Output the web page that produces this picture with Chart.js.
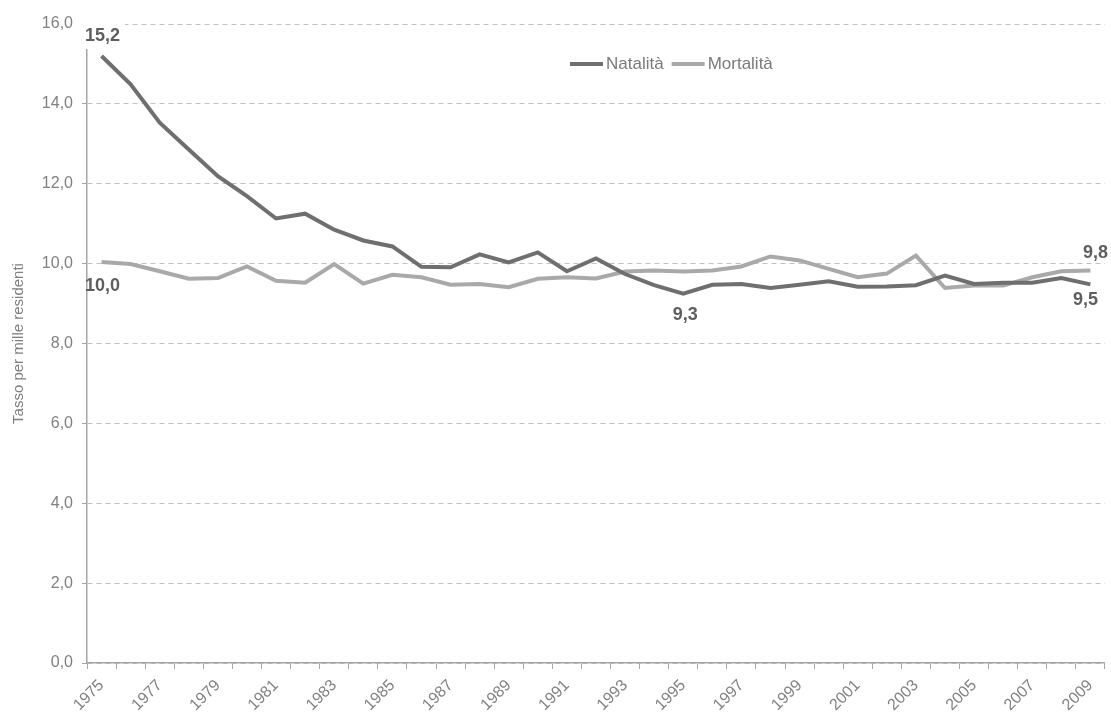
<!DOCTYPE html>
<html>
<head>
<meta charset="utf-8">
<script src="https://cdn.jsdelivr.net/npm/chart.js@4.4.0/dist/chart.umd.min.js"></script>
<style>
    html, body { margin: 0; padding: 0; background: #fff; }
    #wrap { width: 1111px; height: 718px; position: relative; }
</style>
</head>
<body>
<div id="wrap"><canvas id="chart"></canvas></div>
<script>
const years = ["1975", "1976", "1977", "1978", "1979", "1980", "1981", "1982", "1983", "1984",
    "1985", "1986", "1987", "1988", "1989", "1990", "1991", "1992", "1993", "1994",
    "1995", "1996", "1997", "1998", "1999", "2000", "2001", "2002", "2003", "2004",
    "2005", "2006", "2007", "2008", "2009"];

const natalita = [15.2, 14.49, 13.53, 12.86, 12.19, 11.69, 11.13, 11.25, 10.85, 10.58,
    10.43, 9.92, 9.91, 10.23, 10.03, 10.28, 9.81, 10.13, 9.74, 9.46,
    9.25, 9.47, 9.49, 9.39, 9.47, 9.56, 9.42, 9.43, 9.46, 9.70,
    9.49, 9.52, 9.52, 9.64, 9.48];

const mortalita = [10.04, 9.99, 9.81, 9.62, 9.64, 9.93, 9.57, 9.52, 9.99, 9.50,
    9.72, 9.66, 9.47, 9.49, 9.41, 9.62, 9.66, 9.63, 9.80, 9.83,
    9.80, 9.83, 9.93, 10.18, 10.08, 9.87, 9.66, 9.75, 10.20, 9.39,
    9.45, 9.45, 9.66, 9.81, 9.83];

const seriesNames = ["Natalità", "Mortalità"];
const yTickValues = [0, 2, 4, 6, 8, 10, 12, 14, 16];

// which points get a value callout: [dataset, index]
const callouts = [[0, 0], [1, 0], [0, 20], [1, 34], [0, 34]];

const FONT = "'Liberation Sans', Arial, sans-serif";
const lineColors = ["#6f6f6f", "#a9a9a9"];
const fmt = v => v.toFixed(1).replace(".", ",");

// offsets for each callout (same order as callouts)
const calloutPlace = [
    { dx: 1, dy: -20 },
    { dx: 1, dy: 24 },
    { dx: 2, dy: 21 },
    { dx: 5, dy: -17 },
    { dx: -5, dy: 16 }
];

const calloutPlugin = {
    id: "callouts",
    afterDatasetsDraw(chart) {
        const ctx = chart.ctx;
        ctx.save();
        ctx.font = "bold 18px " + FONT;
        ctx.textAlign = "center";
        ctx.textBaseline = "middle";
        callouts.forEach(([ds, idx], i) => {
            const pt = chart.getDatasetMeta(ds).data[idx];
            const text = fmt(chart.data.datasets[ds].data[idx]);
            const x = pt.x + calloutPlace[i].dx;
            const y = pt.y + calloutPlace[i].dy;
            const w = ctx.measureText(text).width;
            if (i === 0) {
                // the top label sits on a white box, hiding axis and grid behind it
                ctx.fillStyle = "#fff";
                ctx.fillRect(x - w / 2 - 4, y - 13, w + 9, 26);
            }
            ctx.fillStyle = "#5e5e5e";
            ctx.fillText(text, x, y);
        });
        ctx.restore();
    }
};

const legendPlugin = {
    id: "lineLegend",
    afterDraw(chart) {
        const ctx = chart.ctx;
        ctx.save();
        ctx.font = "17px " + FONT;
        ctx.textBaseline = "middle";
        let x = 570;
        const y = 64;
        chart.data.datasets.forEach(ds => {
            ctx.strokeStyle = ds.borderColor;
            ctx.lineWidth = 4;
            ctx.beginPath();
            ctx.moveTo(x, y);
            ctx.lineTo(x + 33, y);
            ctx.stroke();
            ctx.fillStyle = "#7a7a7a";
            ctx.fillText(ds.label, x + 36, y);
            x += 36 + ctx.measureText(ds.label).width + 8;
        });
        ctx.restore();
    }
};

new Chart(document.getElementById("chart"), {
    type: "line",
    data: {
        labels: years,
        datasets: [
            {
                label: seriesNames[0],
                data: natalita,
                borderColor: lineColors[0],
                borderWidth: 4,
                pointRadius: 0,
                tension: 0
            },
            {
                label: seriesNames[1],
                data: mortalita,
                borderColor: lineColors[1],
                borderWidth: 4,
                pointRadius: 0,
                tension: 0
            }
        ]
    },
    options: {
        responsive: true,
        maintainAspectRatio: false,
        animation: false,
        layout: { padding: { top: 24, right: 1, left: 0, bottom: 0 } },
        plugins: {
            legend: { display: false },
            tooltip: { enabled: false }
        },
        scales: {
            x: {
                offset: true,
                grid: {
                    offset: true,
                    drawOnChartArea: false,
                    tickLength: 6,
                    tickColor: "#a6a6a6",
                    color: "#a6a6a6"
                },
                border: { color: "#a6a6a6", width: 1.5 },
                ticks: {
                    autoSkip: false,
                    maxRotation: 45,
                    minRotation: 45,
                    color: "#808080",
                    font: { family: FONT, size: 16 },
                    padding: 7,
                    callback: (val, i) => (i % 2 === 0 ? years[i] : "")
                },
                afterFit: scale => { scale.height = 55; }
            },
            y: {
                min: 0,
                max: 16,
                afterBuildTicks: scale => {
                    scale.ticks = yTickValues.map(v => ({ value: v }));
                },
                grid: {
                    color: "#c0c0c0",
                    tickLength: 5,
                    tickColor: "#a6a6a6",
                    tickBorderDash: []
                },
                border: { color: "#a6a6a6", width: 1.5, dash: [5, 4] },
                ticks: {
                    color: "#808080",
                    font: { family: FONT, size: 16 },
                    padding: 9,
                    callback: v => fmt(v)
                },
                title: {
                    display: true,
                    text: "Tasso per mille residenti",
                    color: "#7f7f7f",
                    font: { family: FONT, size: 15 },
                    padding: { top: 10, bottom: 0 }
                },
                afterFit: scale => { scale.width = 87; }
            }
        }
    },
    plugins: [calloutPlugin, legendPlugin]
});
</script>
</body>
</html>
